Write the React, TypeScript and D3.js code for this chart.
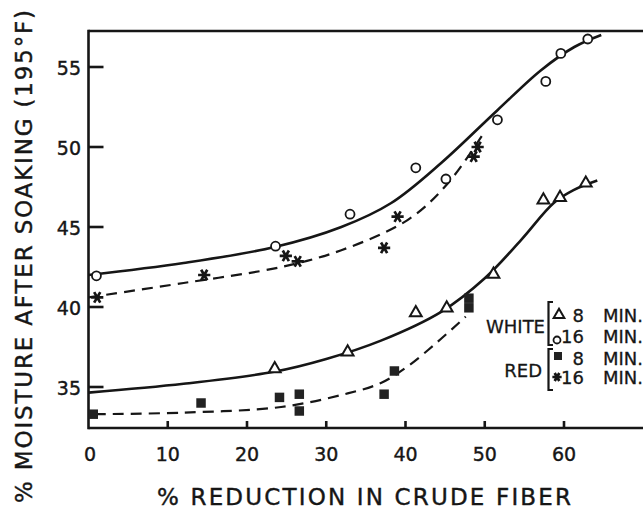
import * as d3 from "d3";

const xTicks = [0, 10, 20, 30, 40, 50, 60];
const yTicks = [35, 40, 45, 50, 55];

// white 8 min (triangles)
const white8: [number, number][] = [
  [23.5, 36.2], [32.7, 37.25], [41.3, 39.7], [45.2, 40.0],
  [51.1, 42.1], [57.4, 46.75], [59.5, 46.9], [62.75, 47.8],
];
// white 16 min (circles)
const white16: [number, number][] = [
  [1.0, 41.95], [23.6, 43.8], [33.0, 45.8], [41.3, 48.7], [45.1, 48.0],
  [51.6, 51.7], [57.7, 54.1], [59.6, 55.85], [63.0, 56.75],
];
// red 8 min (squares)
const red8: [number, number][] = [
  [0.6, 33.3], [14.2, 34.0], [24.1, 34.35], [26.6, 34.55], [26.6, 33.5],
  [37.3, 34.55], [38.6, 36.0], [48.0, 40.55], [48.0, 39.95],
];
// red 16 min (asterisks)
const red16: [number, number][] = [
  [1.1, 40.6], [14.6, 42.0], [24.9, 43.2], [26.4, 42.85],
  [37.3, 43.7], [39.0, 45.65], [48.6, 49.4], [49.1, 50.0],
];

// hand-drawn fitted curves
const white16Fit: [number, number][] = [
  [0, 42.0], [12, 42.75], [23.5, 43.75], [31.9, 45.0], [38.2, 46.5],
  [44.5, 49.0], [51.6, 52.3], [57.1, 54.8], [61.3, 56.25], [64.7, 57.0],
];
const red16Fit: [number, number][] = [
  [0, 40.6], [12, 41.5], [24.3, 42.5], [31.9, 43.55], [40.3, 45.45],
  [45.3, 47.7], [49.9, 50.9],
];
const white8Fit: [number, number][] = [
  [0, 34.65], [12, 35.2], [23.4, 35.95], [30, 36.75], [36.9, 37.9],
  [44.5, 39.7], [50, 41.8], [54.6, 44.2], [58.7, 46.5], [61.2, 47.3], [64.2, 47.9],
];
const red8Fit: [number, number][] = [
  [0.8, 33.3], [12, 33.4], [24.3, 33.75], [32.7, 34.6], [36.9, 35.25],
  [40.3, 36.3], [44, 37.8], [47.6, 39.4],
];

const W = 643;
const H = 510;
const font = "'DejaVu Sans', sans-serif";
const ink = "#161616";

const x = d3.scaleLinear().domain([0, 60]).range([88.5, 564]);
const y = d3.scaleLinear().domain([35, 55]).range([387, 67]);
const xMax = x.invert(W);
const yMin = y.invert(428);
const yMax = y.invert(31);

const line = d3
  .line<[number, number]>()
  .x((d) => x(d[0]))
  .y((d) => y(d[1]))
  .curve(d3.curveCatmullRom.alpha(0.5));

const triPath = (s: number) => d3.symbol(d3.symbolTriangle, s)()!;
const sqPath = (s: number) => d3.symbol(d3.symbolSquare, s)()!;
const starPath = (s: number) => d3.symbol(d3.symbolAsterisk, s)()!;

function Triangle({ cx, cy, s = 60 }: { cx: number; cy: number; s?: number }) {
  return (
    <path d={triPath(s)} transform={`translate(${cx},${cy + 1})`} fill="#fff" stroke={ink} strokeWidth={2} />
  );
}
function Circle({ cx, cy, r = 4.5 }: { cx: number; cy: number; r?: number }) {
  return <circle cx={cx} cy={cy} r={r} fill="#fff" stroke={ink} strokeWidth={1.8} />;
}
function Square({ cx, cy, s = 90 }: { cx: number; cy: number; s?: number }) {
  return <path d={sqPath(s)} transform={`translate(${cx},${cy})`} fill="#222" />;
}
function Star({ cx, cy, s = 105 }: { cx: number; cy: number; s?: number }) {
  return (
    <path d={starPath(s)} transform={`translate(${cx},${cy}) rotate(90)`} fill="none" stroke={ink} strokeWidth={2.7} />
  );
}

export default function App() {
  const x0 = x(0);
  const yb = y(yMin);
  const yt = y(yMax);
  const xr = x(xMax);
  return (
    <svg width={W} height={H} style={{ position: "absolute", left: 0, top: 0, background: "#fff" }}>
      {/* frame */}
      <g stroke={ink} strokeWidth={2.6} fill="none">
        <line x1={x0} y1={yt} x2={xr} y2={yt} />
        <line x1={x0} y1={yt - 1.3} x2={x0} y2={yb + 1.3} />
        <line x1={x0} y1={yb} x2={xr} y2={yb} />
        {yTicks.map((t) => (
          <line key={t} x1={x0} x2={x0 + 15} y1={y(t)} y2={y(t)} />
        ))}
        {xTicks.slice(1).map((t) => (
          <line key={t} x1={x(t)} x2={x(t)} y1={yb} y2={yb - 7} />
        ))}
      </g>

      {/* tick labels */}
      <g fontFamily={font} fontSize={19} fill={ink} stroke={ink} strokeWidth={0.4}>
        {yTicks.map((t) => (
          <text key={t} x={81} y={y(t) + 2} textAnchor="end" dominantBaseline="middle">
            {t}
          </text>
        ))}
        {xTicks.map((t) => (
          <text key={t} x={x(t) + (t === 0 ? 1.5 : 0)} y={455} textAnchor="middle" dominantBaseline="middle">
            {t}
          </text>
        ))}
      </g>

      {/* axis titles */}
      <g fontFamily={font} fontSize={23} fill={ink} stroke={ink} strokeWidth={0.4}>
        <text x={157} y={505} textLength={414} lengthAdjust="spacing">
          % REDUCTION IN CRUDE FIBER
        </text>
        <text transform="translate(32,503) rotate(-90)" textLength={493} lengthAdjust="spacing">
          % MOISTURE AFTER SOAKING (195°F)
        </text>
      </g>

      {/* curves */}
      <g fill="none" stroke={ink} strokeWidth={2.6}>
        <path d={line(white16Fit)!} />
        <path d={line(white8Fit)!} />
      </g>
      <g fill="none" stroke={ink} strokeWidth={2.2} strokeDasharray="11,7">
        <path d={line(red16Fit)!} />
        <path d={line(red8Fit)!} />
      </g>

      {/* points */}
      {white16.map((d, i) => (
        <Circle key={"c" + i} cx={x(d[0])} cy={y(d[1])} />
      ))}
      {white8.map((d, i) => (
        <Triangle key={"t" + i} cx={x(d[0])} cy={y(d[1])} />
      ))}
      {red8.map((d, i) => (
        <Square key={"s" + i} cx={x(d[0])} cy={y(d[1])} />
      ))}
      {red16.map((d, i) => (
        <Star key={"a" + i} cx={x(d[0])} cy={y(d[1])} />
      ))}

      {/* legend */}
      <g fontFamily={font} fontSize={18} fill={ink} stroke={ink} strokeWidth={0.3}>
        <text x={545} y={333} textAnchor="end">WHITE</text>
        <text x={542} y={377} textAnchor="end">RED</text>
        <text x={584} y={322} textAnchor="end">8</text>
        <text x={584} y={343} textAnchor="end">16</text>
        <text x={584} y={365} textAnchor="end">8</text>
        <text x={584} y={384} textAnchor="end">16</text>
        {[322, 343, 365, 384].map((b) => (
          <text key={b} x={603} y={b}>MIN.</text>
        ))}
      </g>
      <g fill="none" stroke={ink} strokeWidth={2.2}>
        <path d="M553,302 H548.5 V345 H553" />
        <path d="M553,349 H548.5 V390 H553" />
      </g>
      <Triangle cx={559} cy={314} s={50} />
      <Circle cx={557} cy={340} r={3.5} />
      <Square cx={558} cy={356} s={64} />
      <Star cx={557} cy={377} s={60} />
    </svg>
  );
}
